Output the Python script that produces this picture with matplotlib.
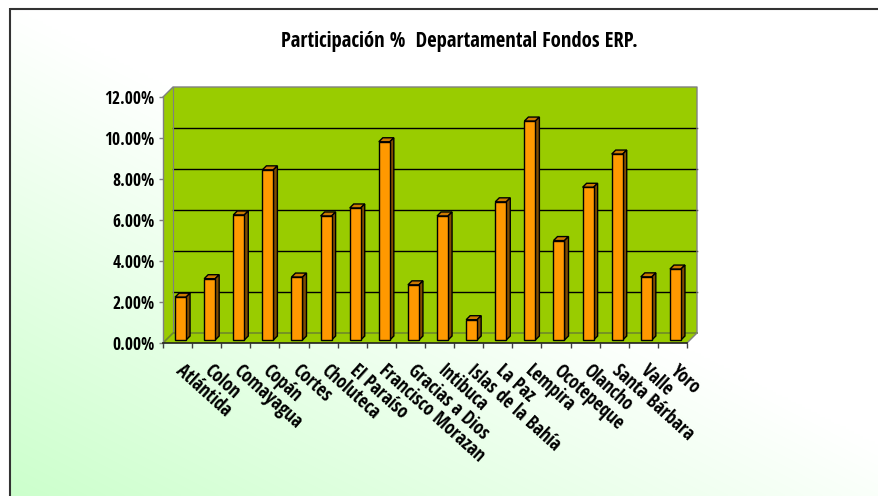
import os
import matplotlib
matplotlib.use('Agg')
import matplotlib.pyplot as plt
import numpy as np
from matplotlib import font_manager as fm
from matplotlib.patches import Polygon, Rectangle
from matplotlib.lines import Line2D

# ---------------- data ----------------
departments = ['Atlántida', 'Colon', 'Comayagua', 'Copán', 'Cortes', 'Choluteca',
               'El Paraíso', 'Francisco Morazan', 'Gracias a Dios', 'Intibuca',
               'Islas de la Bahía', 'La Paz', 'Lempira', 'Ocotepeque', 'Olancho',
               'Santa Bárbara', 'Valle', 'Yoro']
share_pct = [2.09, 2.99, 6.10, 8.30, 3.07, 6.05, 6.44, 9.67, 2.69, 6.05,
             0.99, 6.74, 10.68, 4.85, 7.45, 9.07, 3.08, 3.46]
y_ticks = [0, 2, 4, 6, 8, 10, 12]
title = 'Participación %  Departamental Fondos ERP.'


def narrow_bold(size):
    """Pick a narrow bold sans font (Arial Narrow look-alike)."""
    prefs = ['LiberationSansNarrow-Bold', 'OpenSans-CondBold', 'OpenSans-CondensedBold',
             'DejaVuSansCondensed-Bold']
    files = {os.path.splitext(os.path.basename(f.fname))[0]: f.fname for f in fm.fontManager.ttflist}
    for p in prefs:
        if p in files:
            return fm.FontProperties(fname=files[p], size=size)
    return fm.FontProperties(family='DejaVu Sans', weight='bold', stretch='condensed', size=size)


W, H = 879, 496
fig = plt.figure(figsize=(W / 100, H / 100), dpi=100)

# ---------------- background ----------------
bg = fig.add_axes([0, 0, 1, 1])
bg.set_xlim(0, W)
bg.set_ylim(0, H)
bg.set_axis_off()
nx, ny = 300, 200
xn = np.linspace(0, 1, nx)[None, :]
yn = np.linspace(1, 0, ny)[:, None]   # row 0 = top
s = np.clip(1 - (0.9 * xn + yn), 0, 1)
img = np.ones((ny, nx, 3))
img[..., 0] = 1 - 0.2 * s
img[..., 2] = 1 - 0.2 * s
bg.imshow(img, extent=[10, W, 0, H - 8], aspect='auto', interpolation='bilinear', zorder=0)
bg.plot([10, W], [H - 8.5, H - 8.5], color='#333333', lw=1.5, zorder=1, solid_capstyle='butt')
bg.plot([10.5, 10.5], [0, H - 8], color='#333333', lw=1.5, zorder=1, solid_capstyle='butt')

# ---------------- plot axes (front plane) ----------------
x0p, x1p, y0p, y1p = 163, 687, 343, 97
ax = fig.add_axes([x0p / W, (H - y0p) / H, (x1p - x0p) / W, (y0p - y1p) / H])
n = len(departments)
ax.set_xlim(0, n)
ax.set_ylim(0, 12)
ax.patch.set_visible(False)
for sp in ax.spines.values():
    sp.set_visible(False)

ux = n / (x1p - x0p)          # data units per pixel (x)
uy = 12 / (y0p - y1p)         # data units per pixel (y)
D = 10                         # wall depth in px
ddx, ddy = D * ux, D * uy

wall = '#99CC00'
gray = '#808080'
# back wall
ax.add_patch(Rectangle((ddx, ddy), n, 12, facecolor=wall, edgecolor='none', zorder=1, clip_on=False))
# left side wall
ax.add_patch(Polygon([(0, 0), (ddx, ddy), (ddx, 12 + ddy), (0, 12)], closed=True,
                     facecolor=wall, edgecolor='none', zorder=1, clip_on=False))
# floor
ax.add_patch(Polygon([(0, 0), (n, 0), (n + ddx, ddy), (ddx, ddy)], closed=True,
                     facecolor=wall, edgecolor='none', zorder=1, clip_on=False))
# gridlines on back wall
for yv in y_ticks[1:-1]:
    ax.add_line(Line2D([ddx, n + ddx], [yv + ddy, yv + ddy], color='black', lw=1, zorder=2, clip_on=False))
# wall outlines
ax.add_line(Line2D([0, ddx, n + ddx, n + ddx], [12, 12 + ddy, 12 + ddy, ddy], color=gray, lw=1, zorder=2, clip_on=False))
ax.add_line(Line2D([ddx, ddx], [ddy, 12 + ddy], color=gray, lw=0.8, zorder=2, clip_on=False))
ax.add_line(Line2D([0, ddx, n + ddx], [0, ddy, ddy], color='#6f8a2a', lw=1.2, zorder=2, clip_on=False))
ax.add_line(Line2D([n, n + ddx], [0, ddy], color=gray, lw=1, zorder=2, clip_on=False))
# front axes lines
ax.add_line(Line2D([0, 0], [0, 12], color=gray, lw=1, zorder=5, clip_on=False))
ax.add_line(Line2D([0, n], [0, 0], color='#202020', lw=1.2, zorder=5, clip_on=False))

# ---------------- bars ----------------
b_off = 3          # px from front plane to bar front face
bw = 11            # bar width px
bd = 4             # bar depth px
bx, by = b_off * ux, b_off * uy
w = bw * ux
dx, dy = bd * ux, bd * uy
centers = np.arange(n) + 0.5
ax.bar(centers + bx, share_pct, width=w, bottom=by, color='#FF9900',
       edgecolor='black', linewidth=1, zorder=4, clip_on=False)
for c, v in zip(centers, share_pct):
    xa = c + bx - w / 2
    xb = c + bx + w / 2
    yt = by + v
    ax.add_patch(Polygon([(xa, yt), (xb, yt), (xb + dx, yt + dy), (xa + dx, yt + dy)], closed=True,
                         facecolor='#CC7A00', edgecolor='black', lw=1, zorder=3, clip_on=False))
    ax.add_patch(Polygon([(xb, by), (xb + dx, by + dy), (xb + dx, yt + dy), (xb, yt)], closed=True,
                         facecolor='#7F4C00', edgecolor='black', lw=1, zorder=3, clip_on=False))

# ---------------- ticks & labels ----------------
fp_y = narrow_bold(12.5)
fp_x = narrow_bold(13.5)
ax.set_yticks(y_ticks)
ax.set_yticklabels([f'{t:.2f}%' for t in y_ticks])
for lab in ax.get_yticklabels():
    lab.set_fontproperties(fp_y)
ax.tick_params(axis='y', length=3, width=1, color=gray, pad=3)
ax.set_xticks(np.arange(n + 1))
ax.set_xticklabels([])
ax.tick_params(axis='x', length=3.6, width=1, color='#404040', direction='out')

for c, name in zip(centers, departments):
    ax.text(c + 7 * ux, -18 * uy, name, rotation=-42, rotation_mode='anchor',
            ha='left', va='top', fontproperties=fp_x, clip_on=False)

fig.text(459 / W, 1 - 41 / H, title, ha='center', va='center', fontproperties=narrow_bold(14.9))

fig.savefig('out.png', dpi=100)
